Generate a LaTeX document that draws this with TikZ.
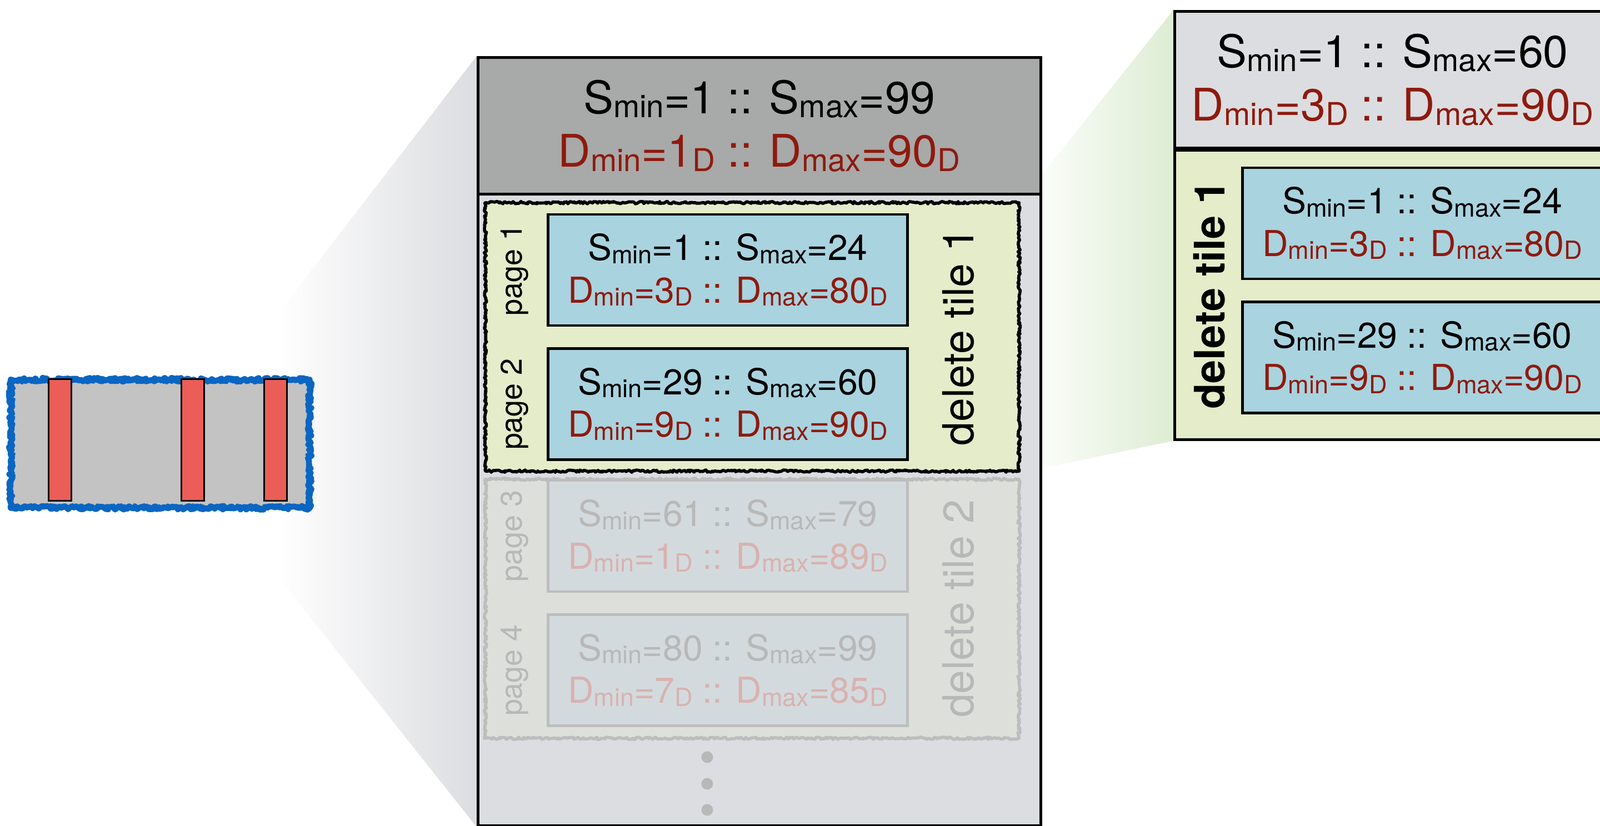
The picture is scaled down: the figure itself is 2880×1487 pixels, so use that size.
\documentclass[tikz,border=0pt]{standalone}
\usepackage{fontspec}
\setmainfont{TeX Gyre Heros}
\usepackage{xcolor}
\usepackage{graphicx}
\usetikzlibrary{positioning,decorations.pathmorphing,fadings,backgrounds,calc}

\definecolor{hdrgray}{HTML}{A8A9A9}
\definecolor{bodygray}{HTML}{DCDDE0}
\definecolor{tilegreen}{HTML}{E4ECC9}
\definecolor{pageblue}{HTML}{A9D3DF}
\definecolor{dred}{HTML}{8E1A0E}
\definecolor{stripgray}{HTML}{C3C3C3}
\definecolor{barred}{HTML}{EA5E57}
\definecolor{stripblue}{HTML}{0A66C2}
\definecolor{ghosttext}{HTML}{B8B8B8}
\definecolor{ghostred}{HTML}{D8B2B0}
\definecolor{ghosttile}{HTML}{DDE0DA}
\definecolor{ghostpage}{HTML}{D3DADD}
\definecolor{ghostedge}{HTML}{BDBDBD}
\definecolor{funnelgreen}{HTML}{DDEDD3}

\colorlet{dcol}{dred}
\newcommand\lo[1]{\raisebox{-0.09em}{\scalebox{0.7}{#1}}}
\newcommand\rng[4]{S\lo{min}=#1 :: S\lo{max}=#2\\
  {\color{dcol}D\lo{min}=#3\lo{D} :: D\lo{max}=#4\lo{D}}}
\newcommand\hdrsize{\fontsize{23}{27.5}\selectfont}
\newcommand\pgsize{\fontsize{18.3}{21.8}\selectfont}

\tikzfading[name=fade in east, left color=transparent!100, right color=transparent!0]

\begin{document}
\begin{tikzpicture}[x=0.01cm, y=-0.01cm,
    hdr/.style={draw, line width=1.3pt, minimum width=10.12cm, minimum height=2.46cm, align=center, font=\hdrsize, anchor=north west, inner sep=0pt},
    pg/.style={draw, line width=1.3pt, fill=pageblue, minimum width=6.47cm, minimum height=2cm, align=center, font=\pgsize, inner sep=0pt},
    tile/.style={draw, line width=1.6pt, line join=round, fill=tilegreen, decorate, decoration={random steps, segment length=0.8pt, amplitude=0.6pt}, minimum width=9.6cm, anchor=north west, inner sep=0pt},
    ghost/.style={draw=ghostedge, text=ghosttext, execute at begin node=\colorlet{dcol}{ghostred}},
    pglabel/.style={rotate=90, font=\fontsize{15.3}{18}\selectfont},
    tilelabel/.style={rotate=90, font=\fontsize{21.9}{26}\selectfont},
    bar/.style={draw, line width=0.7pt, fill=barred, minimum width=0.41cm, minimum height=2.19cm, inner sep=0pt},
    dot/.style={circle, fill=ghosttext, minimum size=0.21cm, inner sep=0pt},
    scribble/.style={draw=stripblue, line width=3pt, line join=round, decorate, decoration={random steps, segment length=1pt, amplitude=0.9pt}}
]
\useasboundingbox (0,0) rectangle (2880,1487);
\clip (0,0) rectangle (2880,1487);

% the column strip
\node[scribble, fill=stripgray, minimum width=5.38cm, minimum height=2.31cm, anchor=north west, inner sep=0pt] (strip) at (14,678) {};
\node[scribble, line width=1.6pt, minimum width=5.32cm, minimum height=2.25cm, inner sep=0pt] (strip2) at (strip.center) {};
\node[bar] (b1) at (108,792) {};
\node[bar] (b2) at (347,792) {};
\node[bar] (b3) at (496,792) {};

% file with its delete tiles
\node[draw, line width=1.4pt, fill=bodygray, minimum width=10.12cm, minimum height=13.82cm, anchor=north west, inner sep=0pt] (mainbox) at (858,101) {};
\node[hdr, fill=hdrgray] (hdr) at (858,101) {\rng{1}{99}{1}{90}};

\node[tile, minimum height=4.83cm] (tile1) at (871,362) {};
\node[pg] (p1) at (1310,486) {\rng{1}{24}{3}{80}};
\node[pg, below=0.37cm of p1] (p2) {\rng{29}{60}{9}{90}};
\node[pglabel] (l1) at ([xshift=-0.58cm]p1.west) {page 1};
\node[pglabel] (l2) at ([xshift=-0.58cm]p2.west) {page 2};
\node[tilelabel] (t1) at ([xshift=-1.12cm]tile1.east) {delete tile 1};

\node[tile, ghost, fill=ghosttile, minimum height=4.66cm] (tile2) at (871,860) {};
\node[pg, ghost, fill=ghostpage] (p3) at (1310,965) {\rng{61}{79}{1}{89}};
\node[pg, ghost, fill=ghostpage, below=0.37cm of p3] (p4) {\rng{80}{99}{7}{85}};
\node[pglabel, text=ghosttext] (l3) at ([xshift=-0.58cm]p3.west) {page 3};
\node[pglabel, text=ghosttext] (l4) at ([xshift=-0.58cm]p4.west) {page 4};
\node[tilelabel, text=ghosttext] (t2) at ([xshift=-1.12cm]tile2.east) {delete tile 2};

\node[dot] (d1) at (1273,1363) {};
\node[dot] (d2) at (1273,1411) {};
\node[dot] (d3) at (1273,1458) {};

% zoomed delete tile
\node[hdr, fill=bodygray, minimum width=7.84cm] (zhead) at (2112,18) {\rng{1}{60}{3}{90}};
\node[draw, line width=1.3pt, fill=tilegreen, minimum width=7.84cm, minimum height=5.2cm, anchor=north west, inner sep=0pt] (zbody) at (zhead.south west) {};
\node[pg] (zp1) at (2560,402) {\rng{1}{24}{3}{80}};
\node[pg, below=0.37cm of zp1] (zp2) {\rng{29}{60}{9}{90}};
\node[tilelabel, font=\bfseries\fontsize{21.5}{26}\selectfont] (zt) at ([xshift=0.65cm]zbody.west) {delete tile 1};

% zoom funnels
\begin{scope}[on background layer]
\coordinate (fan1) at (497,569);
\coordinate (fan2) at (497,1034);
\shade[left color=white, right color=bodygray] (fan1) -- (mainbox.north west) -- (mainbox.south west) -- (fan2) -- cycle;
\fill[funnelgreen, path fading=fade in east] (tile1.north east) -- (zhead.north west) -- (zbody.south west) -- (tile1.south east) -- cycle;
\end{scope}
\end{tikzpicture}
\end{document}
